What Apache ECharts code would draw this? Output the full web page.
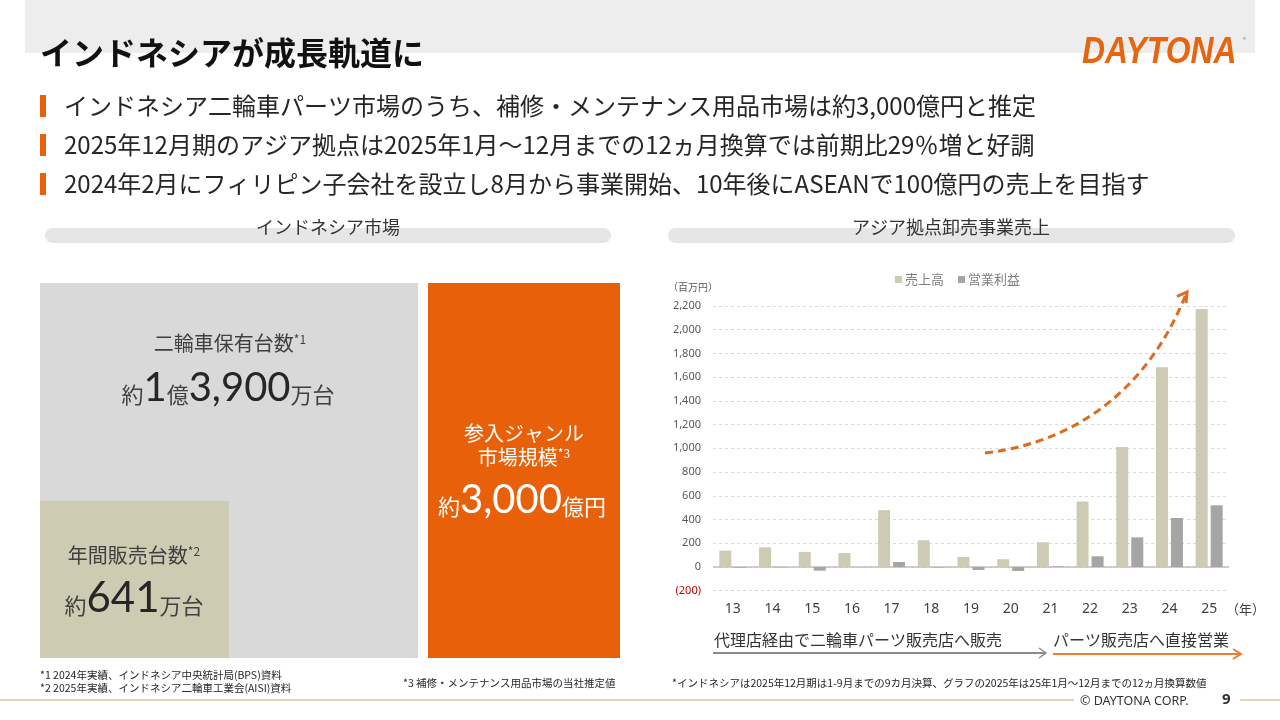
<!DOCTYPE html>
<html><head><meta charset="utf-8">
<script src="https://cdn.jsdelivr.net/npm/echarts@6/dist/echarts.min.js"></script>
<style>html,body{margin:0;padding:0;background:#fff;}#c{width:1280px;height:720px;}</style>
</head><body><div id="c"></div>
<script>
const categories = ['13','14','15','16','17','18','19','20','21','22','23','24','25'];
const salesValues = [138, 166, 127, 118, 479, 225, 85, 65, 208, 551, 1012, 1684, 2174];
const profitValues = [-6, -3, -31, -1, 42, -4, -25, -34, 5, 90, 250, 413, 520];
const seriesNames = ['売上高', '営業利益'];
const yTicks = {min: -200, max: 2200, interval: 200};

const JP = "'Noto Sans CJK JP', 'Noto Sans', sans-serif";
const NUM = "Lato, 'Noto Sans CJK JP', sans-serif";
const fmt = v => Number(v).toLocaleString('en-US');

const chart = echarts.init(document.getElementById('c'), null, {renderer: 'canvas'});

function txt(x, y, text, opt) {
  return {type: 'text', x: x, y: y, z: 10,
    style: Object.assign({text: text, fill: '#262626', fontFamily: JP, fontSize: 12,
      textVerticalAlign: 'middle', textAlign: 'left'}, opt || {})};
}

const graphics = [
  // top banner
  {type: 'rect', z: 0, shape: {x: 25, y: 0, width: 1230, height: 53}, style: {fill: '#EDEDED'}},
  txt(40, 53, 'インドネシアが成長軌道に', {fontSize: 32, fontWeight: 'bold', fill: '#111'}),
  // logo
  {type: 'text', z: 10, x: 1082, y: 53, scaleX: 0.86, scaleY: 1,
   style: {text: 'DAYTONA', fill: '#E8650F', fontFamily: "'Liberation Sans', Arial, sans-serif",
     fontSize: 37, fontWeight: 'bold', fontStyle: 'italic', textVerticalAlign: 'middle', textAlign: 'left'}},
  txt(1243, 40, '®', {fontSize: 6, fill: '#E8650F'}),
  // bullets
  {type: 'rect', z: 5, shape: {x: 40, y: 95, width: 6, height: 22}, style: {fill: '#E8600A'}},
  {type: 'rect', z: 5, shape: {x: 40, y: 134, width: 6, height: 22}, style: {fill: '#E8600A'}},
  {type: 'rect', z: 5, shape: {x: 40, y: 173, width: 6, height: 22}, style: {fill: '#E8600A'}},
  txt(64, 106, 'インドネシア二輪車パーツ市場のうち、補修・メンテナンス用品市場は約3,000億円と推定', {fontSize: 24}),
  txt(64, 145, '2025年12月期のアジア拠点は2025年1月～12月までの12ヵ月換算では前期比29％増と好調', {fontSize: 24}),
  txt(64, 184, '2024年2月にフィリピン子会社を設立し8月から事業開始、10年後にASEANで100億円の売上を目指す', {fontSize: 24}),
  // section headers
  {type: 'rect', z: 1, shape: {x: 45, y: 228, width: 566, height: 15, r: 7.5}, style: {fill: '#E7E6E6'}},
  {type: 'rect', z: 1, shape: {x: 668, y: 228, width: 567, height: 15, r: 7.5}, style: {fill: '#E7E6E6'}},
  txt(328, 227, 'インドネシア市場', {fontSize: 18, textAlign: 'center', fill: '#333'}),
  txt(951, 227, 'アジア拠点卸売事業売上', {fontSize: 18, textAlign: 'center', fill: '#333'}),
  // left boxes
  {type: 'rect', z: 1, shape: {x: 40, y: 283, width: 378, height: 375}, style: {fill: '#D9D9D9'}},
  {type: 'rect', z: 2, shape: {x: 40, y: 501, width: 189, height: 157}, style: {fill: '#CDCBB2'}},
  {type: 'rect', z: 1, shape: {x: 428, y: 283, width: 192, height: 375}, style: {fill: '#E8600A'}},
  {type: 'text', z: 10, x: 230, y: 343, style: {text: '{a|二輪車保有台数}{s|*1}', textAlign: 'center', textVerticalAlign: 'middle',
    rich: {a: {fontSize: 20, fontFamily: JP, fill: '#404040'}, s: {fontSize: 12, fontFamily: JP, fill: '#404040', verticalAlign: 'top'}}}},
  {type: 'text', z: 10, x: 228, y: 388, style: {text: '{a|約}{b|1}{a|億}{b|3,900}{a|万台}', textAlign: 'center', textVerticalAlign: 'middle',
    rich: {a: {fontSize: 22, fontFamily: JP, fill: '#404040', verticalAlign: 'bottom', padding: [0,0,2,0]}, b: {fontSize: 40, fontFamily: NUM, fill: '#262626'}}}},
  {type: 'text', z: 10, x: 134, y: 555, style: {text: '{a|年間販売台数}{s|*2}', textAlign: 'center', textVerticalAlign: 'middle',
    rich: {a: {fontSize: 20, fontFamily: JP, fill: '#404040'}, s: {fontSize: 12, fontFamily: JP, fill: '#404040', verticalAlign: 'top'}}}},
  {type: 'text', z: 10, x: 134, y: 598, style: {text: '{a|約}{b|641}{a|万台}', textAlign: 'center', textVerticalAlign: 'middle',
    rich: {a: {fontSize: 22, fontFamily: JP, fill: '#404040', verticalAlign: 'bottom', padding: [0,0,2,0]}, b: {fontSize: 42, fontFamily: NUM, fill: '#262626'}}}},
  txt(524, 433, '参入ジャンル', {fontSize: 20, textAlign: 'center', fill: '#fff'}),
  {type: 'text', z: 10, x: 524, y: 457, style: {text: '{a|市場規模}{s|*3}', textAlign: 'center', textVerticalAlign: 'middle',
    rich: {a: {fontSize: 20, fontFamily: JP, fill: '#fff'}, s: {fontSize: 12, fontFamily: JP, fill: '#fff', verticalAlign: 'top'}}}},
  {type: 'text', z: 10, x: 522, y: 500, style: {text: '{a|約}{b|3,000}{a|億円}', textAlign: 'center', textVerticalAlign: 'middle',
    rich: {a: {fontSize: 22, fontFamily: JP, fill: '#fff', verticalAlign: 'bottom', padding: [0,0,2,0]}, b: {fontSize: 40, fontFamily: NUM, fill: '#fff'}}}},
  // footnotes
  txt(40, 675, '*1 2024年実績、インドネシア中央統計局(BPS)資料', {fontSize: 10.5}),
  txt(40, 688, '*2 2025年実績、インドネシア二輪車工業会(AISI)資料', {fontSize: 10.5}),
  txt(403, 683, '*3 補修・メンテナンス用品市場の当社推定値', {fontSize: 10.5}),
  txt(672, 683, '*インドネシアは2025年12月期は1-9月までの9カ月決算、グラフの2025年は25年1月～12月までの12ヵ月換算数値', {fontSize: 10.5}),
  // footer
  {type: 'line', z: 1, shape: {x1: 0, y1: 700, x2: 1280, y2: 700}, style: {stroke: '#E5D3B8', lineWidth: 2}},
  {type: 'rect', z: 2, shape: {x: 1074, y: 692, width: 166, height: 16}, style: {fill: '#fff'}},
  txt(1080, 701, '© DAYTONA CORP.', {fontSize: 12.5, fill: '#333', fontFamily: "'Noto Sans', sans-serif"}),
  txt(1222, 700, '9', {fontSize: 15, fontWeight: 'bold', fill: '#333', fontFamily: "'Noto Sans', sans-serif"}),
  // chart annotations
  txt(668, 287, '（百万円）', {fontSize: 10, fill: '#595959'}),
  txt(1226, 609, '（年）', {fontSize: 13, fill: '#404040'}),
  // growth arrow
  {type: 'bezierCurve', z: 100, shape: {x1: 985, y1: 453, cpx1: 1080, cpy1: 442, cpx2: 1150, cpy2: 385, x2: 1186, y2: 294},
    style: {stroke: '#DD6B20', lineWidth: 3, lineDash: [8, 5], fill: null}},
  {type: 'polyline', z: 100, shape: {points: [[1177, 296.5], [1187, 292], [1186, 303]]},
    style: {stroke: '#DD6B20', lineWidth: 3, fill: null}},
  // channel arrows
  txt(858, 640, '代理店経由で二輪車パーツ販売店へ販売', {fontSize: 16, textAlign: 'center', fill: '#333'}),
  txt(1141, 640, 'パーツ販売店へ直接営業', {fontSize: 16, textAlign: 'center', fill: '#333'}),
  {type: 'line', z: 5, shape: {x1: 713, y1: 653, x2: 1045, y2: 653}, style: {stroke: '#8C8C8C', lineWidth: 2}},
  {type: 'polyline', z: 5, shape: {points: [[1039, 648], [1046, 653], [1039, 658]]}, style: {stroke: '#8C8C8C', lineWidth: 1.5, fill: null}},
  {type: 'line', z: 5, shape: {x1: 1053, y1: 654, x2: 1240, y2: 654}, style: {stroke: '#ED7D31', lineWidth: 2}},
  {type: 'polyline', z: 5, shape: {points: [[1233, 649], [1241, 654], [1233, 659]]}, style: {stroke: '#ED7D31', lineWidth: 2, fill: null}}
];

chart.setOption({
  animation: false,
  backgroundColor: '#fff',
  textStyle: {fontFamily: JP},
  graphic: {elements: graphics},
  legend: {
    data: seriesNames, left: 890, top: 268, icon: 'rect', itemWidth: 7, itemHeight: 7, itemGap: 14,
    textStyle: {fontSize: 13, color: '#7F7F7F', fontFamily: JP, padding: [0, 0, 0, -2]}
  },
  grid: {left: 713, right: 51, top: 306, bottom: 129.3, containLabel: false},
  xAxis: {
    type: 'category', data: categories,
    axisLine: {show: false, onZero: false}, axisTick: {show: false},
    axisLabel: {fontSize: 14, color: '#404040', margin: 11, fontFamily: "'Noto Sans', sans-serif"}
  },
  yAxis: {
    type: 'value', min: yTicks.min, max: yTicks.max, interval: yTicks.interval,
    axisLine: {show: false}, axisTick: {show: false},
    splitLine: {lineStyle: {color: '#D9D9D9', type: [3, 3], width: 1}},
    axisLabel: {
      fontSize: 11, color: '#595959', margin: 12, fontFamily: "'Noto Sans', sans-serif",
      formatter: v => v < 0 ? '{neg|(' + fmt(-v) + ')}' : fmt(v),
      rich: {neg: {color: '#C00000', fontSize: 11, fontFamily: "'Noto Sans', sans-serif"}}
    }
  },
  series: [
    {name: seriesNames[0], type: 'bar', data: salesValues, barWidth: 12, barGap: '25%',
     itemStyle: {color: '#CDCBB3'},
     markLine: {silent: true, symbol: ['none', 'none'], label: {show: false},
       lineStyle: {color: '#BFBFBF', type: 'solid', width: 1.5}, data: [{yAxis: 0}], z: 1}},
    {name: seriesNames[1], type: 'bar', data: profitValues, barWidth: 12,
     itemStyle: {color: '#A5A5A5'}}
  ]
});
</script></body></html>
